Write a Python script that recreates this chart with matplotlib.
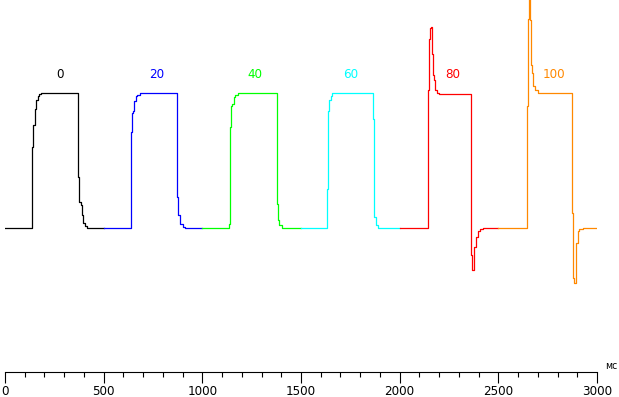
import matplotlib
matplotlib.use("Agg")
import matplotlib.pyplot as plt
from matplotlib.ticker import MultipleLocator

plt.rcParams['font.family'] = ['DejaVu Sans']
plt.rcParams['font.stretch'] = 'condensed'

# response curves, time in ms, level: 0 = start level, 100 = target level
# one entry per step, each one 500 ms long
labels = ["0", "20", "40", "60", "80", "100"]
colors = ["#000000", "#0000ff", "#00ff00", "#00ffff", "#ff0000", "#ff8800"]

t_black = [0, 138, 143, 150, 157, 165, 174, 181, 372, 377, 385, 389, 394, 405, 417, 500]
v_black = [0, 60, 76, 88, 95, 97.5, 99, 100, 38, 19, 17, 9.6, 3.4, 1.7, 0, 0]

t_blue = [500, 636, 639, 645, 650, 655, 662, 670, 684, 872, 878, 888, 900, 912, 1000]
v_blue = [0, 3, 71, 85, 87, 94, 97.5, 98.7, 100, 23, 9.6, 3, 0.5, 0, 0]

t_green = [1000, 1137, 1142, 1147, 1152, 1159, 1166, 1183, 1377, 1382, 1390, 1402, 1500]
v_green = [0, 3, 75, 90, 92, 97, 98.5, 100, 18, 6, 2, 0, 0]

t_cyan = [1500, 1632, 1638, 1643, 1650, 1658, 1866, 1871, 1878, 1892, 2000]
v_cyan = [0, 29, 87, 95, 98, 100, 81, 8, 2, 0, 0]

t_red = [2000, 2144, 2150, 2155, 2160, 2164, 2169, 2174, 2179, 2187, 2200,
         2362, 2368, 2378, 2386, 2395, 2407, 2424, 2500]
v_red = [0, 102, 140, 148, 149, 129, 113, 110, 102, 100.3, 99.5,
         -20, -31, -14, -6.4, -2.5, -1, 0, 0]

t_orange = [2500, 2644, 2649, 2654, 2659, 2664, 2669, 2677, 2686, 2699,
            2875, 2880, 2885, 2893, 2902, 2910, 2927, 3000]
v_orange = [0, 90, 155, 178, 154, 121, 115, 105, 102, 100,
            11, -37, -41, -11, -2.5, -0.7, 0, 0]

times = [t_black, t_blue, t_green, t_cyan, t_red, t_orange]
values = [v_black, v_blue, v_green, v_cyan, v_red, v_orange]

label_x = [279, 770, 1267, 1753, 2270, 2782]
label_y = 114

fig = plt.figure(figsize=(6.19, 3.97), dpi=100)
ax = fig.add_axes([5 / 619, 25 / 397, 592 / 619, 372 / 397])

for t, v, c in zip(times, values, colors):
    ax.plot(t, v, color=c, lw=0.9, drawstyle="steps-post")

for x, s, c in zip(label_x, labels, colors):
    ax.text(x, label_y, s, color=c, fontsize=9.5, ha="center", va="center")

ax.set_xlim(0, 3000)
ax.set_ylim(-106.7, 168.9)

for side in ["top", "left", "right"]:
    ax.spines[side].set_visible(False)
ax.spines["bottom"].set_linewidth(0.8)
ax.set_yticks([])
ax.xaxis.set_major_locator(MultipleLocator(500))
ax.xaxis.set_minor_locator(MultipleLocator(100))
ax.tick_params(axis="x", which="major", direction="out", length=8, width=0.8, pad=1.5, labelsize=9.5)
ax.tick_params(axis="x", which="minor", direction="out", length=3.8, width=0.8)

ax.text(1.0135, 0.016, "мс", transform=ax.transAxes, fontsize=7.5, ha="left", va="center", clip_on=False)

fig.savefig("out.png", dpi=100)
